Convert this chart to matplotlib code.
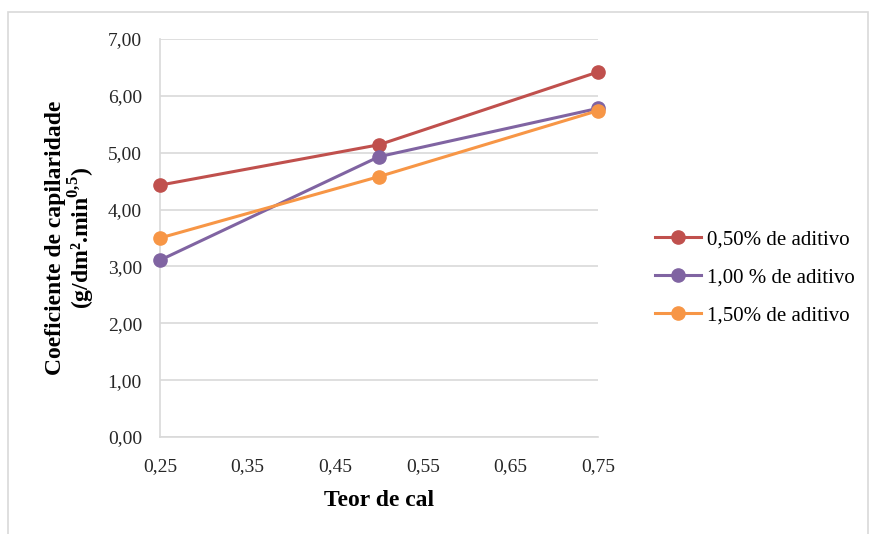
import matplotlib
matplotlib.use("Agg")
import matplotlib.pyplot as plt
from matplotlib.patches import Rectangle
from matplotlib.ticker import FuncFormatter, MultipleLocator

plt.rcParams['font.family'] = ['Liberation Serif', 'DejaVu Serif']
plt.rcParams['mathtext.fontset'] = 'custom'
plt.rcParams['mathtext.rm'] = 'Liberation Serif'
plt.rcParams['mathtext.bf'] = 'Liberation Serif:bold'

teor = [0.25, 0.50, 0.75]
s050 = [4.43, 5.14, 6.42]
s100 = [3.11, 4.93, 5.78]
s150 = [3.50, 4.58, 5.74]
labels = ["0,50% de aditivo", "1,00 % de aditivo", "1,50% de aditivo"]
colors = ["#C0504D", "#8064A2", "#F79646"]
xticks = [0.25, 0.35, 0.45, 0.55, 0.65, 0.75]

fig = plt.figure(figsize=(8.76, 5.34), dpi=100)
ax = fig.add_axes([160/876, 1-437/534, 438/876, 398/534])

for ys, lab, c in zip([s050, s100, s150], labels, colors):
    ax.plot(teor, ys, color=c, lw=2.2, marker='o', ms=9.5, label=lab, clip_on=False, zorder=3)

ax.set_xlim(0.25, 0.75)
ax.set_ylim(0, 7)
ax.set_xticks(xticks)
ax.yaxis.set_major_locator(MultipleLocator(1))
ax.xaxis.set_major_formatter(FuncFormatter(lambda v, p: f"{v:.2f}".replace('.', ',')))
ax.yaxis.set_major_formatter(FuncFormatter(lambda v, p: f"{v:.2f}".replace('.', ',')))
ax.grid(axis='y', color='#d9d9d9', lw=1.2)
ax.set_axisbelow(True)
for s in ['top', 'right']:
    ax.spines[s].set_visible(False)
for s in ['left', 'bottom']:
    ax.spines[s].set_color('#d9d9d9')
    ax.spines[s].set_linewidth(1.2)
ax.tick_params(length=0, labelsize=14, colors='#262626')
ax.tick_params(axis='x', pad=15)
ax.tick_params(axis='y', pad=13)

ax.set_xlabel("Teor de cal", fontsize=17, fontweight='bold', labelpad=11)
ax.set_ylabel("Coeficiente de capilaridade\n(g/dm².min$^{\\mathbf{0{,}5}}$)", fontsize=17,
              fontweight='bold', labelpad=8, linespacing=1.0)

leg = ax.legend(loc='center left', bbox_to_anchor=(1.087, 0.40), frameon=False,
                fontsize=15, handlelength=2.2, labelspacing=0.88, handletextpad=0.3)

fig.patches.append(Rectangle((8/876, -0.02), 860/876, 1-12/534+0.02, transform=fig.transFigure,
                             fill=False, edgecolor='#d9d9d9', lw=1.2))

fig.savefig("out.png", dpi=100)
